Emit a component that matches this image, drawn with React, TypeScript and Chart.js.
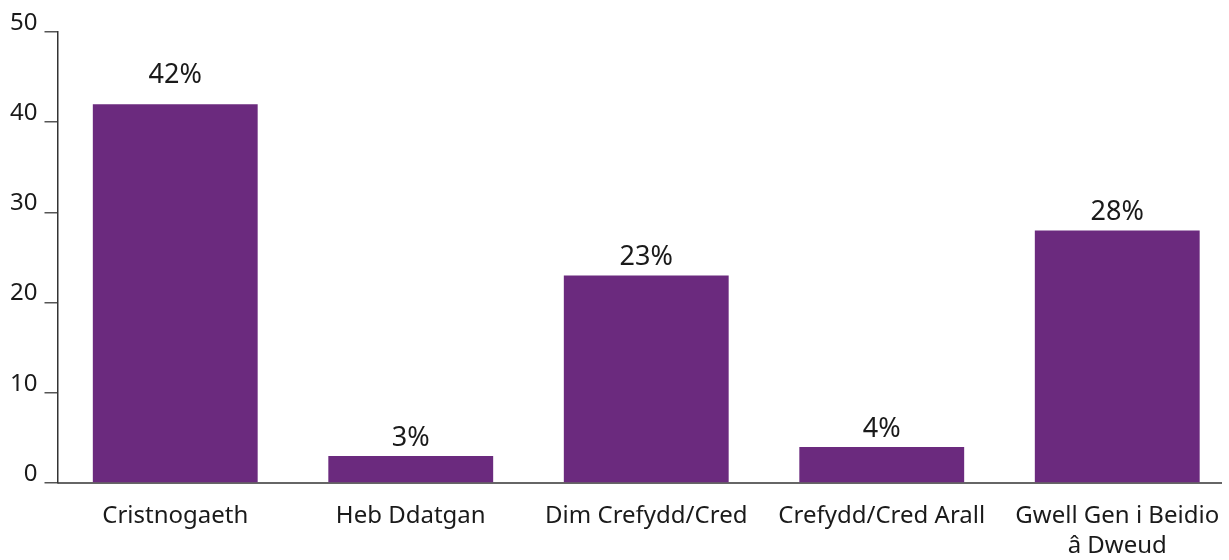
import React, { useEffect, useRef } from "react";
import { Chart, registerables } from "chart.js";

Chart.register(...registerables);

const categories: (string | string[])[] = [
  "Cristnogaeth",
  "Heb Ddatgan",
  "Dim Crefydd/Cred",
  "Crefydd/Cred Arall",
  ["Gwell Gen i Beidio", "â Dweud"],
];
const values: number[] = [42, 3, 23, 4, 28];
const valueLabels: string[] = ["42%", "3%", "23%", "4%", "28%"];
const yTicks: number[] = [0, 10, 20, 30, 40, 50];

const FONT = "'Noto Sans', 'Open Sans', sans-serif";
const BAR = "#6b2a7e";
const TEXT = "#1a1a1a";
const VIEW_W = 1229;
const CANVAS_W = 1235;

const baselinePlugin = {
  id: "baseline",
  beforeDatasetsDraw(chart: any) {
    const { ctx, chartArea } = chart;
    ctx.save();
    ctx.strokeStyle = "#333";
    ctx.lineWidth = 1.5;
    ctx.beginPath();
    ctx.moveTo(chartArea.left, chartArea.bottom);
    ctx.lineTo(VIEW_W - 7, chartArea.bottom);
    ctx.stroke();
    ctx.restore();
  },
};

const dataLabelPlugin = {
  id: "dataLabels",
  afterDatasetsDraw(chart: any) {
    const ctx = chart.ctx;
    const meta = chart.getDatasetMeta(0);
    ctx.save();
    ctx.fillStyle = TEXT;
    ctx.font = `27px ${FONT}`;
    ctx.textAlign = "center";
    ctx.textBaseline = "middle";
    meta.data.forEach((bar: any, i: number) => {
      const extra = bar.y < 120 ? 11 : 0;
      ctx.fillText(valueLabels[i], bar.x, bar.y - 18 - extra);
    });
    ctx.restore();
  },
};

export default function App() {
  const ref = useRef<HTMLCanvasElement>(null);
  useEffect(() => {
    if (!ref.current) return;
    const chart = new Chart(ref.current, {
      type: "bar",
      data: {
        labels: categories,
        datasets: [
          {
            data: values,
            backgroundColor: BAR,
            borderWidth: 0,
            categoryPercentage: 1,
            barPercentage: 0.7,
          },
        ],
      },
      options: {
        animation: false,
        responsive: false,
        maintainAspectRatio: false,
        layout: { padding: { left: 0, right: 0, top: 32, bottom: 0 } },
        plugins: { legend: { display: false }, tooltip: { enabled: false } },
        scales: {
          x: {
            grid: { display: false, drawTicks: false },
            border: { display: false },
            ticks: {
              color: TEXT,
              font: { family: FONT, size: 24, lineHeight: 1.25 },
              padding: 18,
              maxRotation: 0,
              autoSkip: false,
            },
            afterFit: (s: any) => {
              s.height = 77;
              s.paddingLeft = 0;
              s.paddingRight = 0;
            },
          },
          y: {
            min: 0,
            max: 50,
            afterBuildTicks: (s: any) => {
              s.ticks = yTicks.map((v) => ({ value: v }));
            },
            grid: {
              drawOnChartArea: false,
              drawTicks: true,
              tickLength: 13,
              color: "#555",
              lineWidth: 1.5,
            },
            border: { display: true, color: "#333", width: 1.5 },
            ticks: {
              color: TEXT,
              font: { family: FONT, size: 24 },
              padding: 7,
              labelOffset: -9,
            },
            afterFit: (s: any) => {
              s.width = 57.5;
            },
          },
        },
      },
      plugins: [baselinePlugin, dataLabelPlugin],
    });
    return () => chart.destroy();
  }, []);
  return (
    <div
      style={{
        position: "fixed",
        left: 0,
        top: 0,
        width: VIEW_W,
        height: 560,
        overflow: "hidden",
        background: "#fff",
      }}
    >
      <canvas ref={ref} width={CANVAS_W} height={560} style={{ width: CANVAS_W, height: 560, display: "block" }} />
    </div>
  );
}
